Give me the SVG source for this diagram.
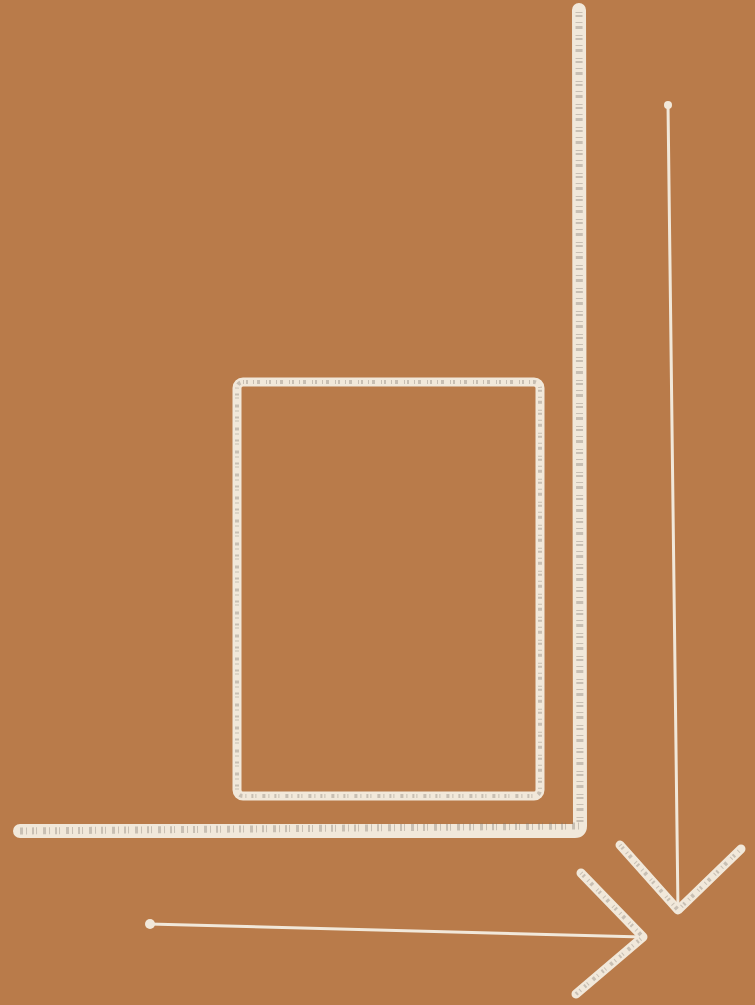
<svg xmlns="http://www.w3.org/2000/svg" width="755" height="1005" viewBox="0 0 755 1005">
<defs>
<style>
.chalk{fill:none;stroke:#F1E8DA;stroke-linecap:round;stroke-linejoin:round}
.tex{fill:none;stroke:#7A726A;stroke-opacity:0.35;stroke-linecap:butt;stroke-dasharray:1 2 2 5 1 3 3 6}
</style>
</defs>
<rect width="755" height="1005" fill="#B97B4A"/>
<g id="wall">
<path class="chalk" d="M579,10 L580,826 Q580,831 575,831 L20,831" stroke-width="14"/>
<path class="tex" d="M579,12 L580,826 L20,831" stroke-width="7"/>
</g>
<g id="box">
<rect class="chalk" x="237" y="382" width="303" height="414" rx="6" stroke-width="9"/>
<rect class="tex" x="237" y="382" width="303" height="414" rx="6" stroke-width="4"/>
</g>
<g id="connectors">
<g id="arrow-down">
<path class="chalk" d="M668,104 L678,910" stroke-width="3"/>
<path class="chalk" d="M620,845 L678,910 L741,849" stroke-width="9"/>
<path class="tex" d="M620,845 L678,910 L741,849" stroke-width="4"/>
<circle cx="668" cy="105" r="4" fill="#F1E8DA"/>
</g>
<g id="arrow-right">
<path class="chalk" d="M149,924 L643,937" stroke-width="3"/>
<path class="chalk" d="M581,873 L643,937 L576,994" stroke-width="9"/>
<path class="tex" d="M581,873 L643,937 L576,994" stroke-width="4"/>
<circle cx="150" cy="924" r="5" fill="#F1E8DA"/>
</g>
</g>
</svg>
